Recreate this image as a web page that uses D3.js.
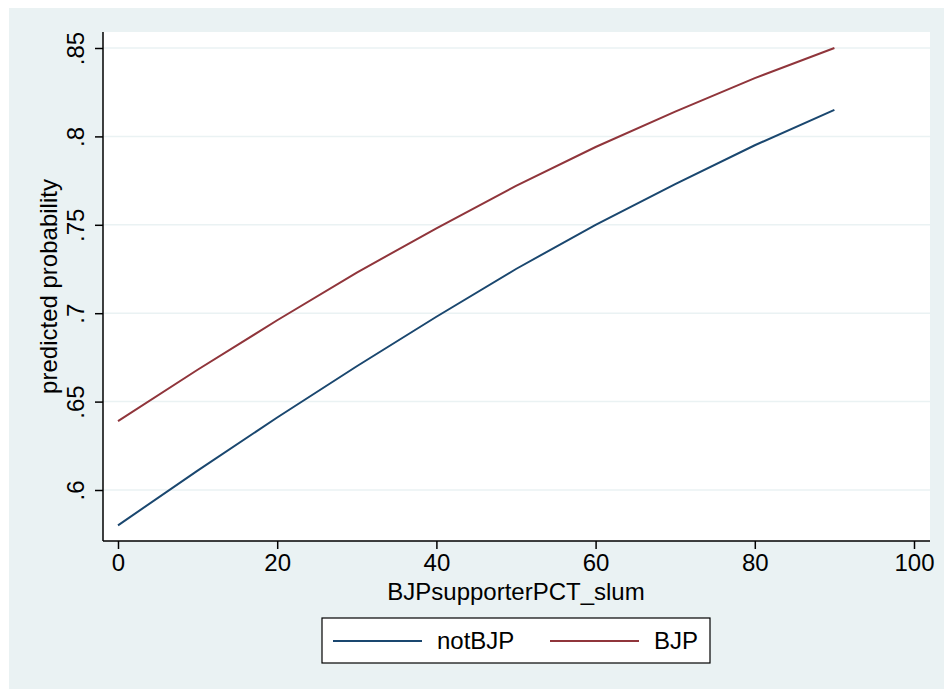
<!DOCTYPE html>
<html>
<head>
<meta charset="utf-8">
<script src="https://cdn.jsdelivr.net/npm/d3@7"></script>
<style>
  body { margin: 0; background: #fff; }
  text { font-family: "Liberation Sans", Arial, Helvetica, sans-serif; fill: #000; }
</style>
</head>
<body>
<div id="chart"></div>
<script>
const notBJPColor = "#1a476f"
const bjpColor = "#90353b"

const xValues = [0, 10, 20, 30, 40, 50, 60, 70, 80, 90];
const notBJP = [0.580, 0.611, 0.641, 0.670, 0.698, 0.725, 0.750, 0.773, 0.795, 0.815];
const BJP = [0.639, 0.668, 0.696, 0.723, 0.748, 0.772, 0.794, 0.814, 0.833, 0.850];
const xTicks = [0, 20, 40, 60, 80, 100];
const yTicks = [0.6, 0.65, 0.7, 0.75, 0.8, 0.85];
const yTickLabels = [".6", ".65", ".7", ".75", ".8", ".85"];

function drawChart() {
    const W = 944, H = 689;
    const fontSize = "24px";
    const svg = d3.select("#chart").append("svg")
        .attr("width", W)
        .attr("height", H);

    // outer graph region
    svg.append("rect")
        .attr("x", 9).attr("y", 8)
        .attr("width", W - 9).attr("height", H - 8)
        .attr("fill", "#eaf2f3");

    const plot = { left: 103, right: 930, top: 32, bottom: 541 };

    svg.append("rect")
        .attr("x", plot.left).attr("y", plot.top)
        .attr("width", plot.right - plot.left)
        .attr("height", plot.bottom - plot.top)
        .attr("fill", "#fff");

    const x = d3.scaleLinear().domain([0, 100]).range([118, 914]);
    const y = d3.scaleLinear().domain([0.6, 0.85]).range([490, 48]);

    // gridlines
    svg.append("g").selectAll("line")
        .data(yTicks)
        .enter().append("line")
        .attr("x1", plot.left).attr("x2", plot.right)
        .attr("y1", d => y(d)).attr("y2", d => y(d))
        .attr("stroke", "#eaf2f3")
        .attr("stroke-width", 1.5);

    // lines
    const line = d3.line()
        .x((d, i) => x(xValues[i]))
        .y(d => y(d));

    svg.append("path")
        .datum(notBJP)
        .attr("d", line)
        .attr("fill", "none")
        .attr("stroke", notBJPColor)
        .attr("stroke-width", 2);

    svg.append("path")
        .datum(BJP)
        .attr("d", line)
        .attr("fill", "none")
        .attr("stroke", bjpColor)
        .attr("stroke-width", 2);

    // x axis
    const xAxis = svg.append("g")
        .attr("transform", "translate(0," + plot.bottom + ")")
        .call(d3.axisBottom(x).tickValues(xTicks).tickSize(8).tickPadding(5).tickSizeOuter(0));
    xAxis.select(".domain").attr("d", "M" + plot.left + ",0H" + plot.right).attr("stroke-width", 1.5);
    xAxis.selectAll(".tick line").attr("stroke-width", 1.5);
    xAxis.selectAll("text")
        .style("font-size", fontSize)
        .style("font-family", "'Liberation Sans', Arial, sans-serif")
        .attr("fill", "#000");

    // y axis
    const yAxis = svg.append("g")
        .attr("transform", "translate(" + plot.left + ",0)")
        .call(d3.axisLeft(y).tickValues(yTicks).tickSize(8).tickSizeOuter(0)
            .tickFormat((d, i) => yTickLabels[i]));
    yAxis.select(".domain").attr("d", "M0," + plot.top + "V" + plot.bottom).attr("stroke-width", 1.5);
    yAxis.selectAll(".tick line").attr("stroke-width", 1.5);
    yAxis.selectAll("text")
        .attr("x", null).attr("dy", null)
        .attr("transform", "translate(-19,0) rotate(-90)")
        .attr("text-anchor", "middle")
        .style("font-size", fontSize)
        .style("font-family", "'Liberation Sans', Arial, sans-serif")
        .attr("fill", "#000");

    // axis titles
    svg.append("text")
        .attr("x", x(50))
        .attr("y", 600)
        .attr("text-anchor", "middle")
        .style("font-size", fontSize)
        .text("BJPsupporterPCT_slum");

    svg.append("text")
        .attr("transform", "translate(57," + ((plot.top + plot.bottom) / 2) + ") rotate(-90)")
        .attr("text-anchor", "middle")
        .style("font-size", fontSize)
        .text("predicted probability");

    // legend
    const legend = svg.append("g").attr("class", "legend");
    legend.append("rect")
        .attr("x", 322).attr("y", 618)
        .attr("width", 388).attr("height", 45)
        .attr("fill", "#fff")
        .attr("stroke", "#000")
        .attr("stroke-width", 1.2);

    const legendItems = legend.selectAll(".legend-item")
        .data([{ name: "notBJP", color: notBJPColor, x: 333 }, { name: "BJP", color: bjpColor, x: 550 }])
        .enter().append("g")
        .attr("class", "legend-item");

    legendItems.append("line")
        .attr("x1", d => d.x).attr("x2", d => d.x + 89)
        .attr("y1", 641).attr("y2", 641)
        .attr("stroke", d => d.color)
        .attr("stroke-width", 2);

    legendItems.append("text")
        .attr("x", d => d.x + 104)
        .attr("y", 649)
        .style("font-size", fontSize)
        .text(d => d.name);
}

drawChart();
</script>
</body>
</html>
